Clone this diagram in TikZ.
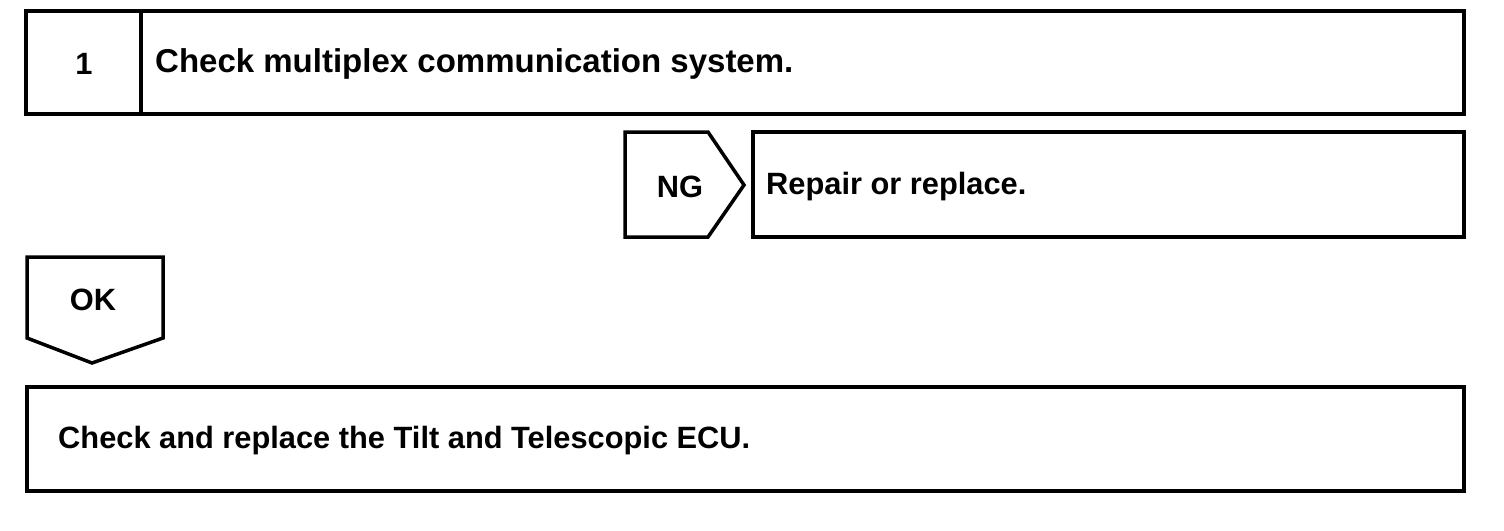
\documentclass[tikz,border=0pt]{standalone}
\usepackage{fontspec}
\setmainfont{Liberation Sans}
\begin{document}
\begin{tikzpicture}[x=1pt,y=-1pt,
  frame/.style={draw=black,line width=3.5pt,line join=miter},
  lbl/.style={font=\fontsize{30.8}{36}\selectfont\bfseries,inner sep=0pt,anchor=west},
  biglbl/.style={lbl,font=\fontsize{33}{38}\selectfont\bfseries},
  tag/.style={font=\fontsize{30.8}{36}\selectfont\bfseries,inner sep=0pt}]
\useasboundingbox (0,0) rectangle (1504,530);
% top step box
\draw[frame] (26,11) rectangle (1464,114);
\draw[frame] (141,11) -- (141,114);
\node[tag] (num) at (84,64) {1};
\node[biglbl] (step1) at (155,64) {Check multiplex communication system.};
% NG tag
\draw[frame] (625,132) -- (708,132) -- (744,185) -- (708,237) -- (625,237) -- cycle;
\node[tag] (ng) at (680,187) {NG};
% repair box
\draw[frame] (753,132) rectangle (1464,237);
\node[lbl] (repair) at (766,187) {Repair or replace.};
% OK tag
\draw[frame] (27,257) -- (163,257) -- (163,338) -- (92,363) -- (27,338) -- cycle;
\node[tag] (ok) at (93,300) {OK};
% bottom box
\draw[frame] (27,387) rectangle (1464,491);
\node[lbl] (final) at (58,441) {Check and replace the Tilt and Telescopic ECU.};
\end{tikzpicture}
\end{document}
